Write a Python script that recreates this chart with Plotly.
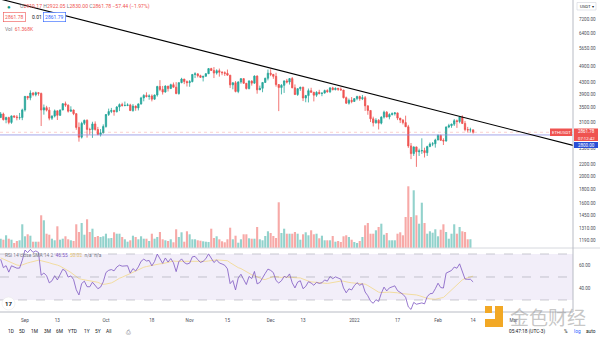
import plotly.graph_objects as go
import pandas as pd
import numpy as np

# ---------------- data ----------------
DATES = pd.date_range("2021-08-23", "2022-02-14", freq="D")

OPEN = [3225,3322,3172,3226,3101,3270,3243,3225,3226,
3433,3834,3789,3940,3887,3952,3927,3430,3497,3427,3210,3265,3408,3285,3430,3612,3570,3398,3432,3330,2977,2750,3078,3155,2930,2925,3063,2927,2807,2850,
3000,3307,3390,3418,3382,3516,3585,3561,3562,3575,3415,3542,3490,3605,3786,3865,3830,3846,3748,3877,4155,4057,3971,4170,4085,4217,4131,3924,4288,4415,4325,
4288,4322,4584,4605,4537,4477,4517,4610,4807,4733,4636,4727,4667,4648,4624,4558,4211,4284,3990,4312,4430,4265,4085,4342,4270,4523,4043,4094,4294,4445,
4631,4587,4513,4221,4119,4195,4348,4309,4432,4110,3891,4083,4131,3783,3858,4016,3961,3872,3961,3922,3940,4019,3982,4108,4047,4095,4065,4037,3793,3628,3713,
3676,3765,3829,3761,3794,3550,3418,3193,3091,3157,3083,3238,3371,3242,3308,3330,3351,3212,3163,3096,2993,2561,2405,2540,2441,2459,2466,2423,2547,2600,2606,
2688,2792,2680,2667,2988,3020,3057,3146,3124,3240,3076,2925,2918,2919.17]
HIGH = [3375,3358,3249,3248,3280,3285,3292,3350,3468,
3840,3838,4028,3970,3985,3971,3952,3587,3550,3514,3285,3445,3418,3446,3627,3675,3590,3536,3443,3343,3100,3118,3172,3179,2970,3118,3127,2990,2938,3052,
3320,3470,3490,3438,3542,3620,3640,3675,3625,3609,3600,3555,3620,3820,3901,3962,3898,3896,3890,4180,4375,4175,4195,4173,4250,4292,4305,4296,4460,4418,4365,
4378,4600,4666,4620,4572,4525,4635,4825,4838,4868,4778,4808,4705,4700,4770,4558,4298,4343,4334,4450,4445,4272,4376,4371,4550,4550,4185,4300,4460,4770,
4778,4597,4648,4238,4237,4368,4420,4445,4486,4225,4090,4145,4146,3880,4087,4112,3980,3999,4045,3952,4050,4062,4136,4145,4125,4100,4125,4040,3827,3768,3812,
3770,3855,3856,3878,3845,3555,3422,3250,3210,3185,3260,3413,3400,3340,3365,3375,3357,3215,3182,3276,3040,2623,2550,2545,2505,2725,2524,2565,2635,2643,2715,
2815,2805,2725,3000,3066,3070,3190,3175,3250,3285,3140,2990,2970,2922.05]
LOW = [3225,3150,3080,3055,3065,3214,3155,3170,3158,
3387,3727,3714,3837,3834,3856,3011,3303,3390,3155,3163,3230,3163,3270,3428,3520,3360,3381,3290,2920,2651,2720,3037,2740,2806,2734,2900,2797,2765,2834,
2970,3268,3345,3276,3365,3400,3526,3535,3540,3404,3383,3410,3420,3583,3683,3800,3730,3680,3730,3826,4000,3890,3955,3990,4080,4121,3900,3886,4266,4236,4154,
4145,4299,4450,4473,4455,4330,4502,4605,4713,4450,4578,4502,4555,4528,4540,4106,4061,3960,3935,4250,4246,4055,4060,4185,4248,3918,4038,3965,4288,4368,
4520,4424,4150,3400,3896,3943,4260,4220,4100,3880,3850,4010,3690,3655,3650,3955,3680,3819,3895,3840,3920,3950,3938,4030,4030,4010,4030,3770,3605,3585,3625,
3675,3714,3697,3720,3405,3300,3110,3000,3070,2928,3052,3200,3230,3180,3280,3280,3160,3085,3050,2990,2520,2300,2360,2159,2360,2400,2330,2360,2536,2556,2525,
2683,2670,2580,2650,2960,2968,3011,2965,3080,3060,2885,2855,2860,2830.00]
CLOSE = [3322,3172,3226,3101,3270,3243,3225,3226,3433,
3834,3789,3940,3887,3952,3927,3430,3497,3427,3210,3265,3408,3285,3430,3612,3570,3398,3432,3330,2977,2750,3078,3155,2930,2925,3063,2927,2807,2850,3000,
3307,3390,3418,3382,3516,3585,3561,3562,3575,3415,3542,3490,3605,3786,3865,3830,3846,3748,3877,4155,4057,3971,4170,4085,4217,4131,3924,4288,4415,4325,4288,
4322,4584,4605,4537,4477,4517,4610,4807,4733,4636,4727,4667,4648,4624,4558,4211,4284,3990,4312,4430,4265,4085,4342,4270,4523,4043,4094,4294,4445,4631,
4587,4513,4221,4119,4195,4348,4309,4432,4110,3891,4083,4131,3783,3858,4016,3961,3872,3961,3922,3940,4019,3982,4108,4047,4095,4065,4037,3793,3628,3713,3676,
3765,3829,3761,3794,3550,3418,3193,3091,3157,3083,3238,3371,3242,3308,3330,3351,3212,3163,3096,2993,2561,2405,2540,2441,2459,2466,2423,2547,2600,2606,2688,
2792,2680,2667,2988,3020,3057,3146,3124,3240,3076,2925,2918,2919,2861.78]
# daily volume, thousands of ETH
VOLUME_K = [65,58,89,65,58,35,49,54,166,
82,96,86,44,44,44,229,194,100,93,65,54,152,58,65,82,61,54,49,166,112,175,93,201,112,135,77,84,77,82,
100,68,70,110,100,100,77,61,44,54,86,77,61,82,65,65,49,100,65,77,112,61,54,49,61,40,131,77,110,44,117,
96,61,61,54,51,47,44,42,135,70,82,61,47,40,61,142,61,86,37,61,96,96,68,65,65,147,61,54,84,117,
105,84,70,320,105,135,100,100,100,112,100,58,96,110,89,124,96,100,68,86,54,54,54,84,44,49,42,82,89,77,58,
42,35,49,77,159,175,100,100,124,147,170,93,105,54,54,54,100,110,89,217,432,217,404,229,170,317,175,100,117,107,
131,82,128,166,112,65,100,166,100,147,117,112,61,61.368]
# closes before the visible window (Jul 1 - Aug 22, 2021), used to seed the RSI
WARMUP_CLOSE = [2113,2150,2226,2322,2197,2323,2316,2115,2146,2110,2139,2037,1941,1994,1917,1880,1897,1895,1820,1787,
1994,2025,2124,2187,2190,2228,2300,2297,2382,2462,2536,
2557,2609,2507,2725,2827,2890,3157,3013,3163,3141,3164,3045,3322,3265,3310,3147,3012,3017,3182,3286,3226,3225]

PRICE_TICKS = [7200,6400,5650,4900,4300,3900,3500,3100,2500,2200,2000,1800,1600,1450,1310,1190]
RSI_TICKS = [60, 40]
RSI_LEVELS = [70, 50, 30]
TIME_TICKS = ["2021-09-01","2021-09-13","2021-10-01","2021-10-18","2021-11-01","2021-11-15","2021-12-01",
              "2021-12-13","2022-01-01","2022-01-17","2022-02-01","2022-02-14","2022-03-01"]
TIME_LABELS = ["Sep","13","Oct","18","Nov","15","Dec","13","2022","17","Feb","14","Mar"]
X_RANGE = ["2021-08-22 18:00", "2022-03-23 00:00"]
TREND_DATES = ["2021-08-20", "2022-03-25"]
TREND_PRICES = [8606, 2544]
HLINE_LEVEL = 2800.00
LAST_PRICE = 2861.78

# ---------------- indicators ----------------
allc = np.array(WARMUP_CLOSE + CLOSE, dtype=float)
d = np.diff(allc)
g = np.clip(d, 0, None); l = np.clip(-d, 0, None)
n = 14
rsi = np.full(len(allc), np.nan)
ag = g[:n].mean(); al = l[:n].mean()
rsi[n] = 100 - 100 / (1 + ag / al)
for i in range(n, len(d)):
    ag = (ag * (n - 1) + g[i]) / n
    al = (al * (n - 1) + l[i]) / n
    rsi[i + 1] = 100 - 100 / (1 + ag / al)
rsi_ma = pd.Series(rsi).rolling(14).mean().to_numpy()
k = len(WARMUP_CLOSE)
RSI = rsi[k:]
RSI_MA = rsi_ma[k:]

UP, DN = "#26a69a", "#ef5350"
vol_colors = ["rgba(38,166,154,0.5)" if c >= o else "rgba(239,83,80,0.5)" for o, c in zip(OPEN, CLOSE)]

W, H = 600, 338
def PX(x): return x / W
def PY(y): return 1 - y / H

AX_X = 573
MAIN_BOT = 248
RSI_BOT = 312
FONT = "Roboto"

fig = go.Figure()
fig.add_trace(go.Bar(x=DATES, y=VOLUME_K, marker=dict(color=vol_colors, line=dict(width=0)),
                     xaxis="x", yaxis="y3", hoverinfo="skip"))
fig.add_trace(go.Candlestick(x=DATES, open=OPEN, high=HIGH, low=LOW, close=CLOSE,
                             increasing=dict(line=dict(color=UP, width=0.8), fillcolor=UP),
                             decreasing=dict(line=dict(color=DN, width=0.8), fillcolor=DN),
                             whiskerwidth=0, xaxis="x", yaxis="y"))
fig.add_trace(go.Scatter(x=[X_RANGE[0], X_RANGE[1]], y=[LAST_PRICE, LAST_PRICE], mode="lines",
                         line=dict(color="rgba(239,83,80,0.35)", width=0.8, dash="dot"), xaxis="x", yaxis="y"))
fig.add_trace(go.Scatter(x=[X_RANGE[0], X_RANGE[1]], y=[HLINE_LEVEL, HLINE_LEVEL], mode="lines",
                         line=dict(color="#8d90e4", width=0.8), xaxis="x", yaxis="y"))
fig.add_trace(go.Scatter(x=TREND_DATES, y=TREND_PRICES, mode="lines",
                         line=dict(color="#000000", width=1.1), xaxis="x", yaxis="y"))
fig.add_trace(go.Scatter(x=DATES, y=RSI_MA, mode="lines", line=dict(color="#f3dda0", width=1),
                         xaxis="x2", yaxis="y2"))
fig.add_trace(go.Scatter(x=DATES, y=RSI, mode="lines", line=dict(color="#7e57c2", width=0.8),
                         xaxis="x2", yaxis="y2"))

log_top = np.log10(8405.0)
log_bot = np.log10(1115.0)

tickfont = dict(family=FONT, size=4.6, color="#4a4d57")
fig.update_layout(
    width=W, height=H, margin=dict(l=0, r=0, t=0, b=0),
    paper_bgcolor="white", plot_bgcolor="white", showlegend=False,
    bargap=0.22,
    xaxis=dict(domain=[0, PX(AX_X)], anchor="y", range=X_RANGE, type="date",
               showticklabels=False, showgrid=False, zeroline=False, rangeslider=dict(visible=False),
               fixedrange=True),
    xaxis2=dict(domain=[0, PX(AX_X)], anchor="y2", range=X_RANGE, type="date", matches="x",
                tickvals=TIME_TICKS, ticktext=TIME_LABELS, showgrid=False, zeroline=False,
                ticks="outside", ticklen=3, tickcolor="rgba(0,0,0,0)", tickfont=tickfont),
    yaxis=dict(domain=[PY(MAIN_BOT), 1], type="log", range=[log_bot, log_top], side="right",
               anchor="x", tickvals=PRICE_TICKS, tickformat=".2f", showgrid=False, zeroline=False,
               ticks="outside", ticklen=4, tickcolor="rgba(0,0,0,0)", tickfont=tickfont),
    yaxis3=dict(domain=[PY(MAIN_BOT), 1], overlaying="y", range=[0, (MAIN_BOT) * 7.0],
                visible=False, anchor="x"),
    yaxis2=dict(domain=[PY(RSI_BOT), PY(MAIN_BOT)], range=[19.57, 75.2], side="right", anchor="x2",
                tickvals=RSI_TICKS, tickformat=".2f", showgrid=False, zeroline=False,
                ticks="outside", ticklen=4, tickcolor="rgba(0,0,0,0)", tickfont=tickfont),
)

shapes = []
# RSI band + levels
shapes.append(dict(type="rect", xref="x2 domain", yref="y2", x0=0, x1=1, y0=RSI_LEVELS[2], y1=RSI_LEVELS[0],
                   fillcolor="rgba(126,87,194,0.10)", line=dict(width=0), layer="below"))
for lv in RSI_LEVELS:
    shapes.append(dict(type="line", xref="x2 domain", yref="y2", x0=0, x1=1, y0=lv, y1=lv,
                       line=dict(color="rgba(120,123,134,0.55)", width=0.7, dash="dash")))
# pane borders
shapes.append(dict(type="line", xref="paper", yref="paper", x0=0, x1=1, y0=PY(MAIN_BOT), y1=PY(MAIN_BOT),
                   line=dict(color="#d6d8de", width=1)))
shapes.append(dict(type="line", xref="paper", yref="paper", x0=0, x1=PX(AX_X), y0=PY(RSI_BOT), y1=PY(RSI_BOT),
                   line=dict(color="#b8bbc4", width=1)))
shapes.append(dict(type="line", xref="paper", yref="paper", x0=PX(AX_X), x1=PX(AX_X), y0=PY(RSI_BOT), y1=1,
                   line=dict(color="#b8bbc4", width=1)))
# price labels on the axis
shapes.append(dict(type="rect", xref="paper", yref="paper", x0=PX(550), x1=PX(572), y0=PY(136), y1=PY(128.5),
                   fillcolor=DN, line=dict(width=0)))
shapes.append(dict(type="rect", xref="paper", yref="paper", x0=PX(574), x1=PX(598), y0=PY(141), y1=PY(128.5),
                   fillcolor=DN, line=dict(width=0)))
shapes.append(dict(type="rect", xref="paper", yref="paper", x0=PX(574), x1=PX(598), y0=PY(148), y1=PY(142),
                   fillcolor="#2a4fd6", line=dict(width=0)))
# currency box
shapes.append(dict(type="rect", xref="paper", yref="paper", x0=PX(577), x1=PX(596), y0=PY(10), y1=PY(2.5),
                   fillcolor="white", line=dict(color="#d1d4dc", width=0.6)))
# watermark logo
shapes.append(dict(type="rect", xref="paper", yref="paper", x0=PX(485), x1=PX(492), y0=PY(313), y1=PY(306),
                   fillcolor="#f2a825", line=dict(width=0)))
shapes.append(dict(type="rect", xref="paper", yref="paper", x0=PX(495), x1=PX(503), y0=PY(327), y1=PY(306),
                   fillcolor="#f2a825", line=dict(width=0)))
shapes.append(dict(type="rect", xref="paper", yref="paper", x0=PX(485), x1=PX(503), y0=PY(327), y1=PY(319),
                   fillcolor="#f2a825", line=dict(width=0)))
# TV logo circle
shapes.append(dict(type="circle", xref="paper", yref="paper", x0=PX(2), x1=PX(15), y0=PY(310), y1=PY(297),
                   fillcolor="white", line=dict(color="#e6e6e6", width=0.5)))

fig.update_layout(shapes=shapes)

def ann(x, y, text, size=5, color="#131722", xanchor="left", **kw):
    fig.add_annotation(x=PX(x), y=PY(y), xref="paper", yref="paper", text=text, showarrow=False,
                       xanchor=xanchor, yanchor="middle", font=dict(family=FONT, size=size, color=color), **kw)

G = "#787b86"
def s(c, t): return f"<span style='color:{c}'>{t}</span>"
ann(9, 6.5, "●", size=6, color="#089981", xanchor="center")
ann(18, 7, s(G, "O") + s(DN, "2919.17") + " " + s(G, "H") + s(DN, "2922.05") + " " + s(G, "L") + s(DN, "2830.00")
    + " " + s(G, "C") + s(DN, "2861.78") + " " + s(DN, "−57.44 (−1.97%)"), size=5.1)
ann(14.5, 17.5, "2861.78", size=5, color=DN, xanchor="center", bordercolor=DN, borderwidth=0.6, borderpad=1.5,
    bgcolor="white")
ann(29.5, 17.5, "0.01", size=5, color="#131722")
ann(54.5, 17.5, "2861.79", size=5, color="#2962ff", xanchor="center", bordercolor="#2962ff", borderwidth=0.6,
    borderpad=1.5, bgcolor="white")
ann(3, 29, s(G, "Vol") + "  " + s(DN, "61.368K"), size=5)
# RSI legend
ann(3, 255, s(G, "RSI 14 close SMA 14 2") + "  " + s("#7e57c2", "46.55") + "  " + s("#e6c36b", "50.02") + "  "
    + s(G, "n/a") + "  " + s(G, "n/a"), size=4.8)
# axis price labels
ann(561, 132.3, "ETHUSDT", size=4.3, color="white", xanchor="center")
ann(586, 131, "2861.78", size=4.5, color="white", xanchor="center")
ann(586, 138, "07:12:42", size=4.3, color="white", xanchor="center")
ann(586, 145, "2800.00", size=4.5, color="white", xanchor="center")
ann(586.5, 6.3, "USDT ▾", size=4.3, color="#131722", xanchor="center")
# bottom toolbar
for xx, t in [(6, "1D"), (17, "5D"), (29, "1M"), (41.5, "3M"), (53.5, "6M"), (66, "YTD"), (82, "1Y"), (93, "5Y"), (104, "All")]:
    ann(xx, 331, t, size=4.8, color="#131722")
ann(124, 331, "⎙", size=6, color="#50535e")
ann(507, 331, "05:47:18 (UTC-3)", size=4.8, color="#131722")
ann(561.5, 331, "%", size=4.8, color="#131722")
ann(571.5, 331, "log", size=4.8, color="#2962ff")
ann(584, 331, "auto", size=4.8, color="#131722")
# TV logo
ann(8.5, 303.5, "<b>17</b>", size=6, color="#131722", xanchor="center")
# watermark
fig.add_annotation(x=PX(548), y=PY(316), xref="paper", yref="paper", text="金色财经", showarrow=False,
                   xanchor="center", yanchor="middle",
                   font=dict(family="Noto Sans CJK SC", size=19, color="rgba(150,150,150,0.55)"))

fig.write_html("out.html")
